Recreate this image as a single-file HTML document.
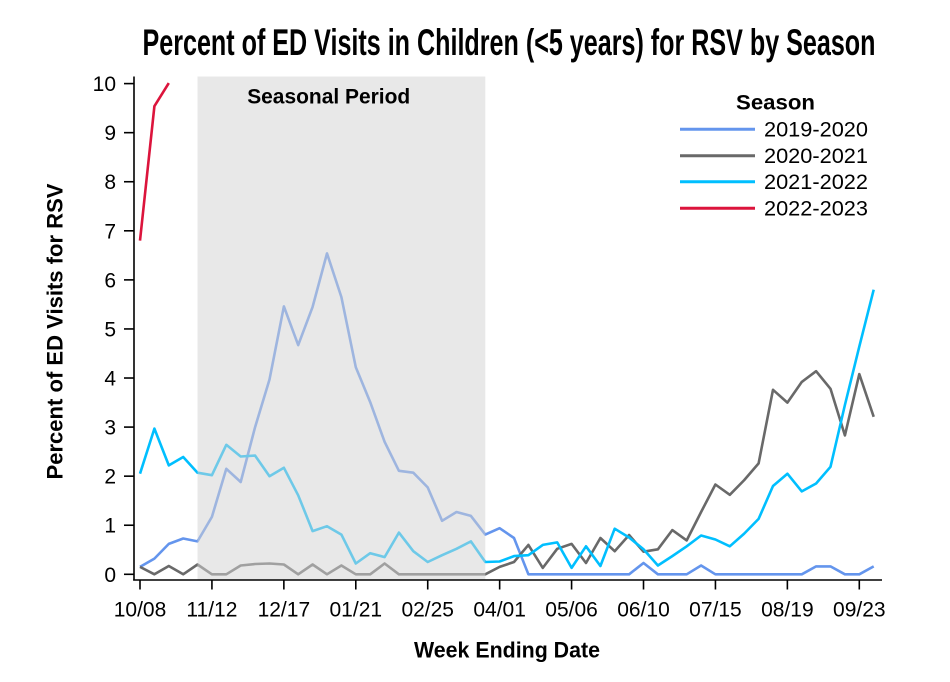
<!DOCTYPE html>
<html>
<head>
<meta charset="utf-8">
<style>
html,body{margin:0;padding:0;background:#fff;}
svg{display:block;}
text{font-family:"Liberation Sans",sans-serif;fill:#000;}
</style>
</head>
<body>
<svg id="chart" width="950" height="682" viewBox="0 0 950 682" xmlns="http://www.w3.org/2000/svg">
<rect x="0" y="0" width="950" height="682" fill="#fff"/>
<g id="series" fill="none" stroke-width="2.6" stroke-linejoin="round" stroke-linecap="butt"></g>
<rect x="197.5" y="76.5" width="287.8" height="503" fill="rgb(211,211,211)" fill-opacity="0.52"/>
<text x="328.7" y="103.3" font-size="21" font-weight="bold" text-anchor="middle" textLength="163" lengthAdjust="spacingAndGlyphs">Seasonal Period</text>
<g id="axes" stroke="#000" stroke-width="1.6"></g>
<g id="labels"></g>
<text x="509" y="55" font-size="37" font-weight="bold" text-anchor="middle" textLength="733" lengthAdjust="spacingAndGlyphs" style="font-family:'Liberation Sans Narrow','Liberation Sans',sans-serif">Percent of ED Visits in Children (&lt;5 years) for RSV by Season</text>
<text x="507" y="657.3" font-size="22" font-weight="bold" text-anchor="middle" textLength="186" lengthAdjust="spacingAndGlyphs">Week Ending Date</text>
<text transform="translate(62.5,331.5) rotate(-90)" font-size="22" font-weight="bold" text-anchor="middle" textLength="296" lengthAdjust="spacingAndGlyphs">Percent of ED Visits for RSV</text>
<text x="775.5" y="109.3" font-size="21" font-weight="bold" text-anchor="middle" textLength="79" lengthAdjust="spacingAndGlyphs">Season</text>
<g stroke-width="3">
<line x1="680" y1="129.3" x2="755" y2="129.3" stroke="#6495ED"/>
<line x1="680" y1="155.7" x2="755" y2="155.7" stroke="#696969"/>
<line x1="680" y1="181.7" x2="755" y2="181.7" stroke="#00BFFF"/>
<line x1="680" y1="208.3" x2="755" y2="208.3" stroke="#DC143C"/>
</g>
<text x="764" y="136.7" font-size="21" textLength="104" lengthAdjust="spacingAndGlyphs">2019-2020</text>
<text x="764" y="163" font-size="21" textLength="104" lengthAdjust="spacingAndGlyphs">2020-2021</text>
<text x="764" y="189" font-size="21" textLength="104" lengthAdjust="spacingAndGlyphs">2021-2022</text>
<text x="764" y="215.5" font-size="21" textLength="104" lengthAdjust="spacingAndGlyphs">2022-2023</text>
</svg>
<script>
(function(){
var NS="http://www.w3.org/2000/svg";
function X(i){return 140+14.386*i;}
function Y(v){return 574.3-49.07*v;}
var data={
"#6495ED":[0.15,0.32,0.62,0.73,0.67,1.17,2.15,1.88,3.0,3.97,5.46,4.67,5.45,6.54,5.65,4.22,3.51,2.70,2.11,2.07,1.77,1.09,1.27,1.19,0.81,0.94,0.74,0,0,0,0,0,0,0,0,0.23,0,0,0,0.18,0,0,0,0,0,0,0,0.16,0.16,0,0,0.16],
"#696969":[0.15,0,0.17,0,0.2,0,0,0.18,0.21,0.22,0.2,0,0.2,0,0.18,0,0,0.22,0,0,0,0,0,0,0,0.15,0.25,0.6,0.13,0.52,0.62,0.23,0.74,0.47,0.8,0.46,0.51,0.9,0.69,1.27,1.83,1.62,1.92,2.26,3.76,3.5,3.92,4.14,3.78,2.83,4.08,3.21],
"#00BFFF":[2.05,2.97,2.22,2.39,2.07,2.02,2.64,2.4,2.42,2.0,2.17,1.61,0.88,0.98,0.81,0.22,0.43,0.35,0.85,0.47,0.25,0.39,0.52,0.67,0.25,0.26,0.37,0.39,0.6,0.65,0.13,0.57,0.17,0.93,0.75,0.51,0.18,0.37,0.57,0.79,0.71,0.57,0.83,1.13,1.8,2.05,1.69,1.85,2.19,3.45,4.64,5.8],
"#DC143C":[6.8,9.54,10.01]
};
var g=document.getElementById("series");
for(var c in data){
  var d=data[c],s="";
  for(var i=0;i<d.length;i++){s+=(i?"L":"M")+X(i).toFixed(1)+","+Y(d[i]).toFixed(1);}
  var p=document.createElementNS(NS,"path");
  p.setAttribute("d",s);p.setAttribute("stroke",c);
  g.appendChild(p);
}
var a=document.getElementById("axes");
function line(x1,y1,x2,y2){var l=document.createElementNS(NS,"line");l.setAttribute("x1",x1);l.setAttribute("y1",y1);l.setAttribute("x2",x2);l.setAttribute("y2",y2);a.appendChild(l);}
line(134,76.5,134,580.5);
line(133.2,580,882,580);
var lb=document.getElementById("labels");
function txt(x,y,s,anchor){var t=document.createElementNS(NS,"text");t.setAttribute("x",x);t.setAttribute("y",y);t.setAttribute("font-size","21");t.setAttribute("text-anchor",anchor);t.textContent=s;lb.appendChild(t);}
for(var v=0;v<=10;v++){var y=Y(v);line(124,y,134,y);txt(116,y+7.5,String(v),"end");}
var xl=["10/08","11/12","12/17","01/21","02/25","04/01","05/06","06/10","07/15","08/19","09/23"];
for(var k=0;k<xl.length;k++){var x=X(k*5);line(x,580,x,589.5);txt(x,616.7,xl[k],"middle");}
})();
</script>
</body>
</html>
